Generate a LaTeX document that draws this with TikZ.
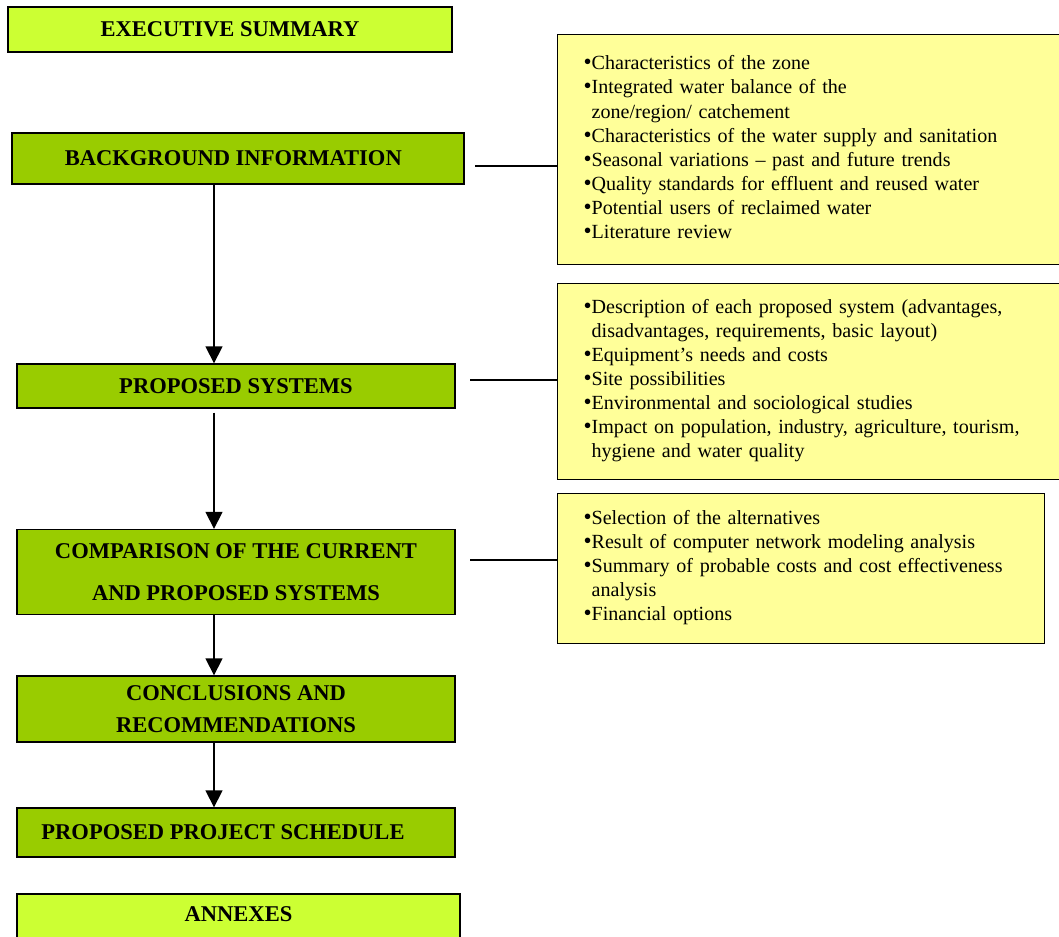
\documentclass[tikz,border=0pt]{standalone}
\usepackage{fontspec}
\setmainfont{Liberation Serif}
\usetikzlibrary{arrows.meta}
\definecolor{limebox}{HTML}{CCFF33}
\definecolor{greenbox}{HTML}{99CC00}
\definecolor{notebox}{HTML}{FFFF99}
\newcommand{\bul}{\par\hangindent=6pt\hangafter=1\noindent\makebox[6pt][l]{\scalebox{1.15}{\textbullet}}}
\begin{document}
\begin{tikzpicture}[x=0.75pt,y=-0.75pt,>={Triangle[width=12.75pt,length=12.75pt]},
	head/.style={draw=black,line width=1pt,font=\fontsize{16.9pt}{24pt}\selectfont\bfseries,align=center,inner sep=0pt},
	notes/.style={draw=black,line width=1pt,fill=notebox,anchor=north west,font=\fontsize{15.05pt}{18.1pt}\selectfont,inner xsep=19.5pt,inner ysep=0pt,align=left},
	link/.style={line width=1pt}]
	\clip (0,0) rectangle (1059,936);
	\node[head,fill=limebox,minimum width=333pt,minimum height=33.75pt] (exec) at (230,29.5) {EXECUTIVE SUMMARY};
	\node[head,fill=greenbox,minimum width=339pt,minimum height=38.25pt] (bg) at (238,158.5) {BACKGROUND INFORMATION\hspace*{7pt}};
	\node[head,fill=greenbox,minimum width=328.5pt,minimum height=33pt] (prop) at (236,386) {PROPOSED SYSTEMS};
	\node[head,fill=greenbox,minimum width=328.5pt,minimum height=63.75pt] (comp) at (236,572) {COMPARISON OF THE CURRENT\\[8pt] AND PROPOSED SYSTEMS};
	\node[head,fill=greenbox,minimum width=328.5pt,minimum height=49.5pt] (concl) at (236,709) {CONCLUSIONS AND\\ RECOMMENDATIONS};
	\node[head,fill=greenbox,minimum width=328.5pt,minimum height=36.75pt] (sched) at (236,832.5) {PROPOSED PROJECT SCHEDULE\hspace*{19.5pt}};
	\node[head,fill=limebox,minimum width=332.25pt,minimum height=37.5pt] (annex) at (238.5,919) {\raisebox{3.75pt}[\height][\depth]{ANNEXES}};
	\node[notes,text width=345.75pt,minimum height=172.5pt] (note1) at (557,34) {%
	\vspace*{-11pt}
	\bul Characteristics of the zone
	\bul Integrated water balance of the\newline zone/region/ catchement
	\bul Characteristics of the water supply and sanitation
	\bul Seasonal variations – past and future trends
	\bul Quality standards for effluent and reused water
	\bul Potential users of reclaimed water
	\bul Literature review\par};
	\node[notes,text width=345.75pt,minimum height=147pt] (note2) at (557,283) {%
	\vspace*{-9pt}
	\bul Description of each proposed system (advantages,\newline disadvantages, requirements, basic layout)
	\bul Equipment’s needs and costs
	\bul Site possibilities
	\bul Environmental and sociological studies
	\bul Impact on population, industry, agriculture, tourism,\newline hygiene and water quality\par};
	\node[notes,text width=326.25pt,minimum height=112.5pt] (note3) at (557,493) {%
	\vspace*{-9pt}
	\bul Selection of the alternatives
	\bul Result of computer network modeling analysis
	\bul Summary of probable costs and cost effectiveness\newline analysis
	\bul Financial options\par};
	\coordinate (axis) at (214,0);
	\coordinate (t1) at (475,166);
	\coordinate (t2) at (470,380);
	\coordinate (t3) at (470,560);
	\draw[link,->] (bg.south -| axis) -- (prop.north -| axis);
	\draw[link,->,shorten <=3pt] (prop.south -| axis) -- (comp.north -| axis);
	\draw[link,->] (comp.south -| axis) -- (concl.north -| axis);
	\draw[link,->] (concl.south -| axis) -- (sched.north -| axis);
	\draw[link] (t1) -- (t1 -| note1.west);
	\draw[link] (t2) -- (t2 -| note2.west);
	\draw[link] (t3) -- (t3 -| note3.west);
\end{tikzpicture}
\end{document}
